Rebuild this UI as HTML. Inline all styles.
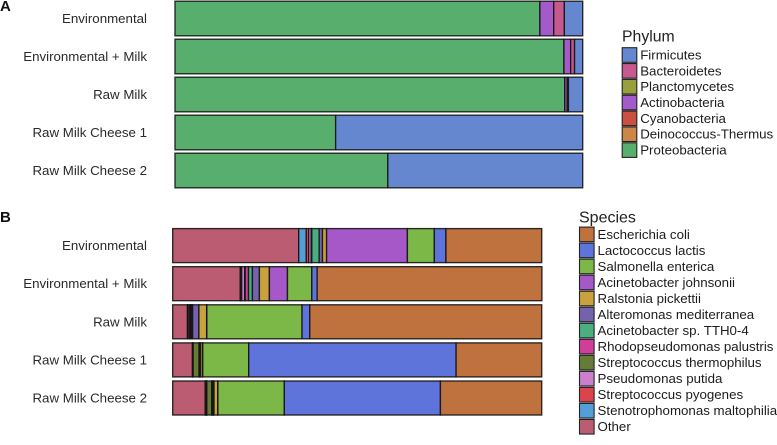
<!DOCTYPE html>
<html lang="en">
<head>
<meta charset="utf-8">
<title>Phylum and species composition</title>
<style>
html,body{margin:0;padding:0;background:#fff;width:777px;height:445px;overflow:hidden}
svg{display:block;font-family:"Liberation Sans",sans-serif}
</style>
</head>
<body>
<svg id="chart" width="777" height="445" viewBox="0 0 777 445" xmlns="http://www.w3.org/2000/svg">
  <text x="0" y="11" font-size="15" font-weight="bold" fill="#111">A</text>
  <text x="0" y="222" font-size="15" font-weight="bold" fill="#111">B</text>
  <text x="622" y="41.5" font-size="15.8" fill="#222">Phylum</text>
  <text x="579" y="222.5" font-size="16" fill="#222">Species</text>
</svg>
<script>
// Shared categories
const categories = ["Environmental", "Environmental + Milk", "Raw Milk", "Raw Milk Cheese 1", "Raw Milk Cheese 2"];

// Panel A values (% of reads per category)
const proteobacteria   = [89.5, 95.4, 95.6, 39.4, 52.2];
const deinococcus      = [0, 0, 0, 0, 0];
const cyanobacteria    = [0, 0, 0, 0, 0];
const actinobacteria   = [3.4, 1.65, 0.6, 0, 0];
const planctomycetes   = [0, 0, 0, 0, 0];
const bacteroidetes    = [2.6, 0.95, 0.3, 0, 0];
const firmicutes       = [4.5, 2.0, 3.5, 60.6, 47.8];

// Panel B values (% of reads per category)
const other            = [34.15, 18.3, 4.0, 5.35, 8.8];
const stenotrophomonas = [2.05, 0.2, 0.15, 0.1, 0.2];
const sPyogenes        = [0.65, 0.2, 0.4, 0.1, 0.15];
const pPutida          = [0.7, 0.8, 0.3, 0, 0.1];
const sThermophilus    = [0.05, 0.15, 0.1, 1.6, 1.35];
const rhodopseudomonas = [0.1, 0.9, 0.3, 0.15, 0.2];
const acinetobacterTth = [2.0, 1.05, 0.15, 0.1, 0.2];
const alteromonas      = [0.9, 1.9, 1.7, 0.15, 0.2];
const ralstonia        = [1.1, 2.7, 2.1, 0.55, 1.0];
const aJohnsonii       = [21.9, 4.9, 0.05, 0.05, 0.05];
const salmonella       = [7.3, 6.6, 25.8, 12.45, 18.0];
const lactococcus      = [3.15, 1.45, 2.1, 56.2, 42.3];
const eColi            = [25.95, 60.9, 62.85, 23.2, 27.45];

// Legend names (top to bottom) and colours
const phylumNames = ["Firmicutes", "Bacteroidetes", "Planctomycetes", "Actinobacteria", "Cyanobacteria", "Deinococcus-Thermus", "Proteobacteria"];
const phylumColors = ["#6487cf", "#c65a8e", "#9a9f3e", "#a45ac8", "#cc4f44", "#cc8748", "#58ae6c"];
const phylumValues = [firmicutes, bacteroidetes, planctomycetes, actinobacteria, cyanobacteria, deinococcus, proteobacteria];

const speciesNames = ["Escherichia coli", "Lactococcus lactis", "Salmonella enterica", "Acinetobacter johnsonii", "Ralstonia pickettii", "Alteromonas mediterranea", "Acinetobacter sp. TTH0-4", "Rhodopseudomonas palustris", "Streptococcus thermophilus", "Pseudomonas putida", "Streptococcus pyogenes", "Stenotrophomonas maltophilia", "Other"];
const speciesColors = ["#bf723e", "#5f74da", "#7cb848", "#a658c8", "#c9a23f", "#7562ad", "#4aae80", "#cf3f9a", "#677b38", "#cc80cc", "#d9444e", "#559fd8", "#bc5c72"];
const speciesValues = [eColi, lactococcus, salmonella, aJohnsonii, ralstonia, alteromonas, acinetobacterTth, rhodopseudomonas, sThermophilus, pPutida, sPyogenes, stenotrophomonas, other];

const svg = document.getElementById('chart');
const NS = 'http://www.w3.org/2000/svg';

function slug(s) {
  return s.toLowerCase().replace(/[^a-z0-9]+/g, '-').replace(/^-|-$/g, '');
}

function makeScaleX(x0, x1) {
  return function (pct) { return x0 + (x1 - x0) * pct / 100; };
}

function makeBandY(top, step) {
  return function (i) { return top + step * i; };
}

function drawPanel(prefix, names, colors, values, scaleX, bandY, barHeight) {
  categories.forEach(function (cat, c) {
    let total = 0;
    for (let s = names.length - 1; s >= 0; s--) {
      const v = values[s][c];
      if (v <= 0) continue;
      const r = document.createElementNS(NS, 'rect');
      
      
      r.setAttribute('x', scaleX(total));
      r.setAttribute('y', bandY(c));
      r.setAttribute('width', scaleX(total + v) - scaleX(total));
      r.setAttribute('height', barHeight);
      r.setAttribute('fill', colors[s]);
      r.setAttribute('stroke', '#141414');
      r.setAttribute('stroke-opacity', '0.9');
      r.setAttribute('stroke-width', '1.35');
      svg.appendChild(r);
      total += v;
    }
    const t = document.createElementNS(NS, 'text');
    
    
    t.setAttribute('x', 147);
    t.setAttribute('y', bandY(c) + barHeight / 2 + 4.5);
    t.setAttribute('text-anchor', 'end');
    t.setAttribute('font-size', '13.3');
    t.setAttribute('fill', '#2a2a2a');
    t.textContent = cat;
    svg.appendChild(t);
  });
}

function drawLegend(prefix, names, colors, x, firstCenter, step, fontSize) {
  names.forEach(function (name, i) {
    const cy = firstCenter + step * i;
    const r = document.createElementNS(NS, 'rect');
    
    
    r.setAttribute('x', x);
    r.setAttribute('y', cy - 7.3);
    r.setAttribute('width', 14.6);
    r.setAttribute('height', 14.6);
    r.setAttribute('fill', colors[i]);
    r.setAttribute('stroke', '#222');
    r.setAttribute('stroke-width', '1.1');
    svg.appendChild(r);
    const t = document.createElementNS(NS, 'text');
    
    
    t.setAttribute('x', x + 18);
    t.setAttribute('y', cy + 4.4);
    t.setAttribute('font-size', fontSize);
    t.setAttribute('fill', '#1c1c1c');
    t.textContent = name;
    svg.appendChild(t);
  });
}

drawPanel('phylum', phylumNames, phylumColors, phylumValues, makeScaleX(175, 582.7), makeBandY(1.2, 38), 34.6);
drawPanel('species', speciesNames, speciesColors, speciesValues, makeScaleX(172.7, 541.7), makeBandY(228.6, 38.1), 34);
drawLegend('phylum', phylumNames, phylumColors, 622.2, 55, 15.85, 13.3);
drawLegend('species', speciesNames, speciesColors, 579.5, 234.4, 16.03, 13.3);
</script>
</body>
</html>
